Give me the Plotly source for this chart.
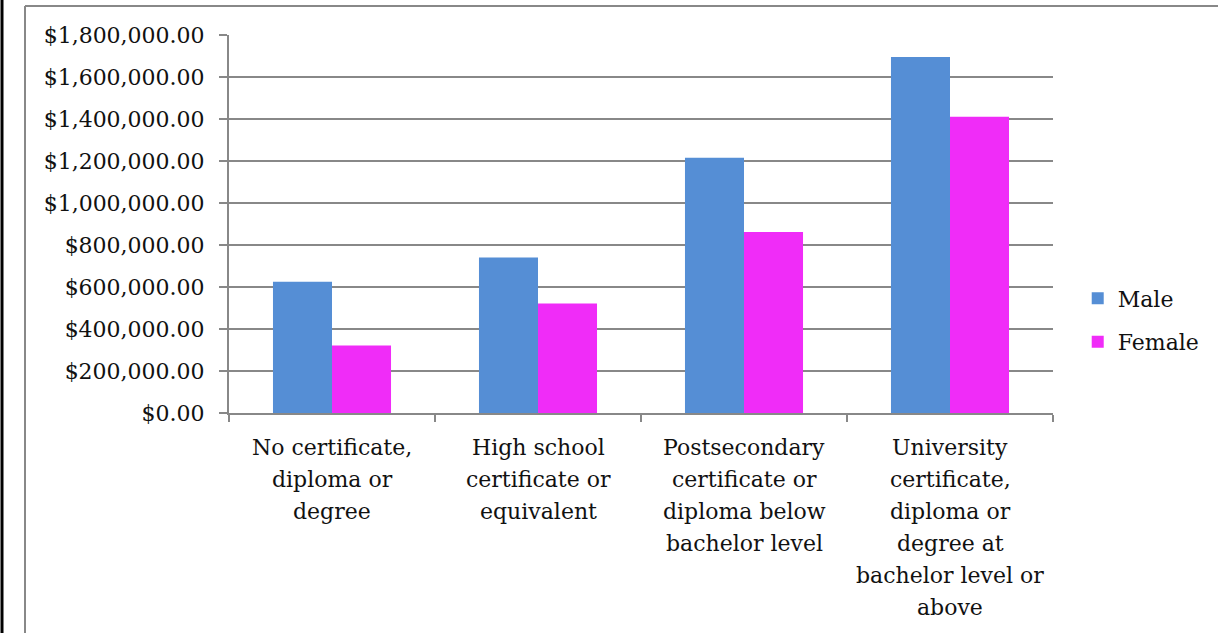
import plotly.graph_objects as go

# Education levels (x categories) and their multi-line labels
categories = [
    "No certificate, diploma or degree",
    "High school certificate or equivalent",
    "Postsecondary certificate or diploma below bachelor level",
    "University certificate, diploma or degree at bachelor level or above",
]
label_lines = [
    ["No certificate,", "diploma or", "degree"],
    ["High school", "certificate or", "equivalent"],
    ["Postsecondary", "certificate or", "diploma below", "bachelor level"],
    ["University", "certificate,", "diploma or", "degree at", "bachelor level or", "above"],
]

# Lifetime earnings by sex
male = [625000, 740000, 1215000, 1695000]
female = [322000, 522000, 862000, 1411000]

MALE_COLOR = "#558ED5"
FEMALE_COLOR = "#F02CF8"
GRID = "#888888"
FONT = "DejaVu Serif"
TEXT = "#111111"
SIZE = 22

fig = go.Figure()
fig.add_trace(go.Bar(x=categories, y=male, name="Male", marker=dict(color=MALE_COLOR, line=dict(width=0)),
                     legendgroup="m"))
fig.add_trace(go.Bar(x=categories, y=female, name="Female", marker=dict(color=FEMALE_COLOR, line=dict(width=0)),
                     legendgroup="f"))

# Category labels, one line per annotation for wider line spacing
annotations = []
for cat, lines in zip(categories, label_lines):
    for i, line in enumerate(lines):
        annotations.append(dict(
            x=cat, y=0, xref="x", yref="y", text=line, showarrow=False,
            xanchor="center", yanchor="middle", yshift=-(34 + 32 * i),
            font=dict(family=FONT, size=SIZE, color=TEXT),
        ))

# Plot-area pixel geometry used for the outer frame lines
L, R, T, B, W, H = 229, 165, 35, 220, 1218, 633
pw, ph = W - L - R, H - T - B

def px_x(p):
    return (p - L) / pw

def px_y(p):
    return (H - B - p) / ph

shapes = [
    dict(type="line", xref="paper", yref="paper", x0=px_x(2), x1=px_x(2), y0=px_y(0), y1=px_y(H),
         line=dict(color="black", width=3)),
    dict(type="line", xref="paper", yref="paper", x0=px_x(25), x1=px_x(25), y0=px_y(6), y1=px_y(H),
         line=dict(color=GRID, width=2)),
    dict(type="line", xref="paper", yref="paper", x0=px_x(25), x1=px_x(W), y0=px_y(6), y1=px_y(6),
         line=dict(color=GRID, width=2)),
]

fig.update_layout(
    width=W, height=H,
    margin=dict(l=L, r=R, t=T, b=B, autoexpand=False),
    paper_bgcolor="white", plot_bgcolor="white",
    barmode="group", bargap=0.427, bargroupgap=0,
    font=dict(family=FONT, size=SIZE, color=TEXT),
    showlegend=True,
    legend=dict(x=1.03, y=0.245, xanchor="left", yanchor="middle",
                traceorder="grouped", tracegroupgap=12,
                font=dict(family=FONT, size=SIZE, color=TEXT)),
    annotations=annotations,
    shapes=shapes,
)
fig.update_xaxes(
    type="category", showticklabels=False, showgrid=False,
    showline=True, linecolor=GRID, linewidth=2,
    ticks="outside", tickson="boundaries", ticklen=7, tickcolor=GRID, tickwidth=1.5,
)
fig.update_yaxes(
    range=[0, 1800000], dtick=200000, tickformat="$,.2f",
    showgrid=True, gridcolor=GRID, gridwidth=2,
    showline=True, linecolor=GRID, linewidth=2,
    ticks="outside", ticklen=8, tickcolor=GRID, tickwidth=1.5,
    ticklabelstandoff=10,
    zeroline=False, tickfont=dict(family=FONT, size=SIZE, color=TEXT),
)

fig.write_html("out.html")
